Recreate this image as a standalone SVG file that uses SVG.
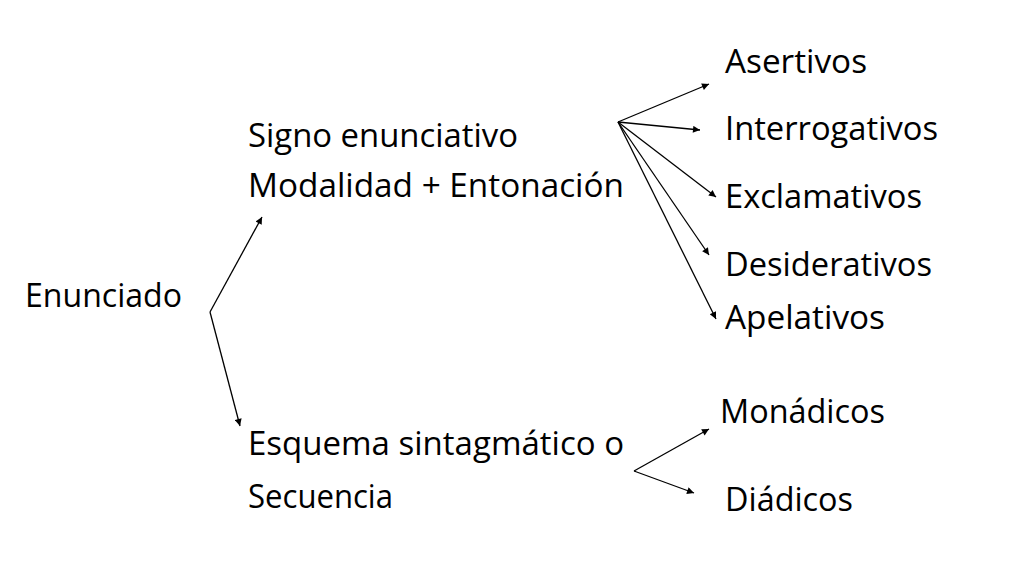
<svg xmlns="http://www.w3.org/2000/svg" width="1024" height="576" viewBox="0 0 1024 576">
<style>
text{font-family:"Open Sans","Noto Sans",sans-serif;font-size:33px;fill:#000}
.c line{stroke:#000;stroke-width:1.3;marker-end:url(#ah)}
</style>
<defs>
<marker id="ah" viewBox="0 0 10 10" refX="10" refY="5" markerWidth="10" markerHeight="7" markerUnits="userSpaceOnUse" orient="auto">
<path d="M0,0 L10,5 L0,10 z" fill="#000"/>
</marker>
</defs>
<rect width="1024" height="576" fill="#fff"/>
<g id="connectors" class="c">
<line x1="618" y1="122" x2="709" y2="84"/>
<line x1="618" y1="122" x2="700" y2="130"/>
<line x1="618" y1="122" x2="716" y2="197"/>
<line x1="618" y1="122" x2="709" y2="255"/>
<line x1="618" y1="122" x2="716" y2="319"/>
<line x1="210" y1="312" x2="262" y2="217"/>
<line x1="210" y1="312" x2="240" y2="426"/>
<line x1="634" y1="471" x2="709" y2="429"/>
<line x1="634" y1="471" x2="694" y2="493"/>
</g>
<g id="enunciado"><text x="25" y="307" textLength="157" lengthAdjust="spacingAndGlyphs">Enunciado</text></g>
<g id="signo"><text x="248" y="147" textLength="270" lengthAdjust="spacingAndGlyphs">Signo enunciativo</text>
<text x="248" y="197" textLength="376" lengthAdjust="spacingAndGlyphs">Modalidad + Entonación</text></g>
<g id="esquema"><text x="248" y="455" textLength="376" lengthAdjust="spacingAndGlyphs">Esquema sintagmático o</text>
<text x="248" y="508" textLength="145" lengthAdjust="spacingAndGlyphs">Secuencia</text></g>
<g id="asertivos"><text x="725" y="73" textLength="142" lengthAdjust="spacingAndGlyphs">Asertivos</text></g>
<g id="interrogativos"><text x="725" y="140" textLength="213" lengthAdjust="spacingAndGlyphs">Interrogativos</text></g>
<g id="exclamativos"><text x="725" y="208" textLength="197" lengthAdjust="spacingAndGlyphs">Exclamativos</text></g>
<g id="desiderativos"><text x="725" y="276" textLength="207" lengthAdjust="spacingAndGlyphs">Desiderativos</text></g>
<g id="apelativos"><text x="725" y="329" textLength="160" lengthAdjust="spacingAndGlyphs">Apelativos</text></g>
<g id="monadicos"><text x="720" y="423" textLength="165" lengthAdjust="spacingAndGlyphs">Monádicos</text></g>
<g id="diadicos"><text x="725" y="511" textLength="128" lengthAdjust="spacingAndGlyphs">Diádicos</text></g>
</svg>
